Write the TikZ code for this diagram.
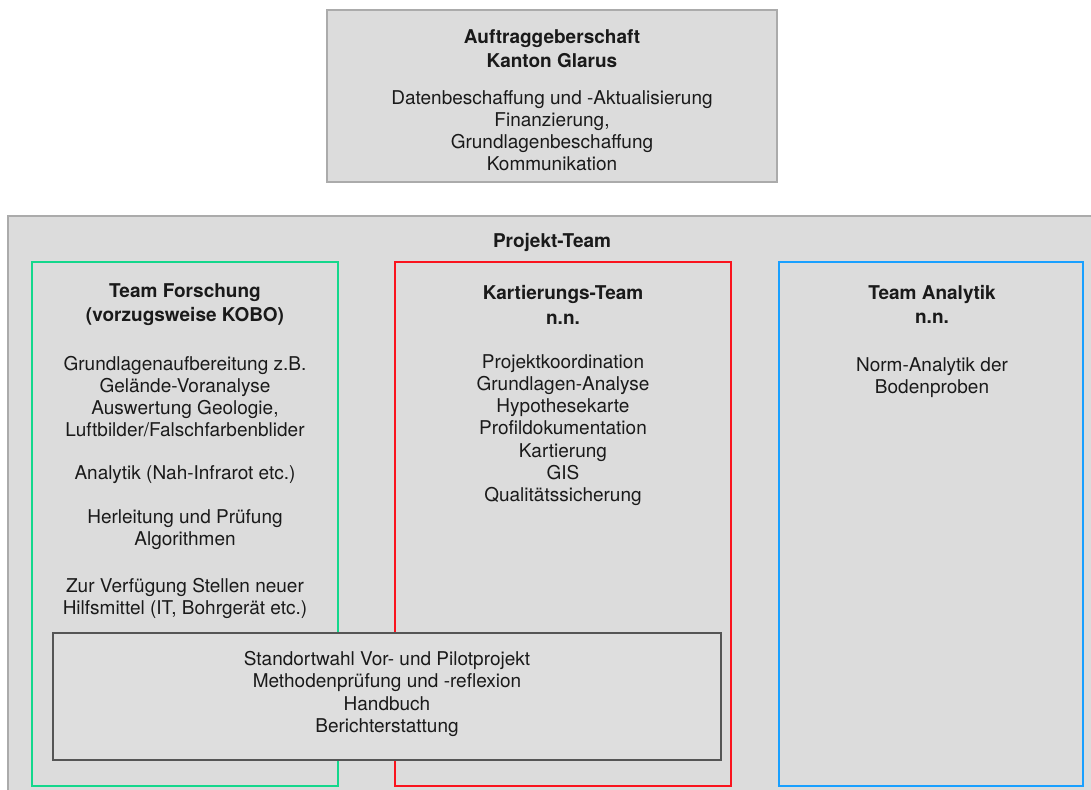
\documentclass[tikz,border=0pt]{standalone}
\usepackage{fontspec}
\setmainfont{TeX Gyre Heros}
\definecolor{framefill}{HTML}{DCDCDC}
\definecolor{frameline}{HTML}{ABABAB}
\definecolor{boxfill}{HTML}{DEDEDE}
\definecolor{tgreen}{RGB}{20,215,140}
\definecolor{tred}{RGB}{250,20,30}
\definecolor{tblue}{RGB}{25,160,255}
\definecolor{darkline}{HTML}{555555}
\definecolor{txt}{HTML}{1A1A1A}
\tikzset{
  bodytext/.style={align=center,inner sep=0pt,text=txt,font=\fontsize{19}{22.2}\selectfont},
  titletext/.style={align=center,inner sep=0pt,text=txt,font=\bfseries\fontsize{19}{24.5}\selectfont},
  teambox/.style={line width=2pt},
}
\begin{document}
\begin{tikzpicture}[x=1pt,y=-1pt]
\useasboundingbox (0,0) rectangle (1091,789);
\fill[white] (0,0) rectangle (1091,789);
% top box
\draw[frameline,fill=framefill,line width=1.2pt] (327,10) rectangle (777,182);
\node[titletext] (auftitle) at (552,48.5) {Auftraggeberschaft\\Kanton Glarus};
\node[bodytext] (aufbody) at (552,130.5) {Datenbeschaffung und -Aktualisierung\\Finanzierung,\\Grundlagenbeschaffung\\Kommunikation};
% project frame
\fill[framefill] (8,216) rectangle (1100,800);
\draw[frameline,line width=1.5pt] (1100,216) -- (8,216) -- (8,800);
\node[titletext] (projtitle) at (552,242) {Projekt-Team};
% team boxes
\draw[tgreen,teambox] (32,262) rectangle (338,786);
\draw[tred,teambox] (395,262) rectangle (731,786);
\draw[tblue,teambox] (779,262) rectangle (1083,786);
% green content
\node[titletext] (fortitle) at (185,304.5) {Team Forschung\\(vorzugsweise KOBO)};
\node[bodytext] (for1) at (185,396.5) {Grundlagenaufbereitung z.B.\\Gelände-Voranalyse\\Auswertung Geologie,\\Luftbilder/Falschfarbenblider};
\node[bodytext] (for2) at (185,475) {Analytik (Nah-Infrarot etc.)};
\node[bodytext] (for3) at (185,530) {Herleitung und Prüfung\\Algorithmen};
\node[bodytext] (for4) at (185,598.5) {Zur Verfügung Stellen neuer\\Hilfsmittel (IT, Bohrgerät etc.)};
% red content
\node[titletext] (karttitle) at (563,305) {Kartierungs-Team\\n.n.};
\node[bodytext] (kartbody) at (563,430) {Projektkoordination\\Grundlagen-Analyse\\Hypothesekarte\\Profildokumentation\\Kartierung\\GIS\\Qualitätssicherung};
% blue content
\node[titletext] (anatitle) at (932,304.5) {Team Analytik\\n.n.};
\node[bodytext] (anabody) at (932,377.5) {Norm-Analytik der\\Bodenproben};
% bottom shared box
\draw[darkline,fill=boxfill,line width=2pt] (53,633) rectangle (721,760);
\node[bodytext] (shared) at (387,694) {Standortwahl Vor- und Pilotprojekt\\Methodenprüfung und -reflexion\\Handbuch\\Berichterstattung};
\end{tikzpicture}
\end{document}
